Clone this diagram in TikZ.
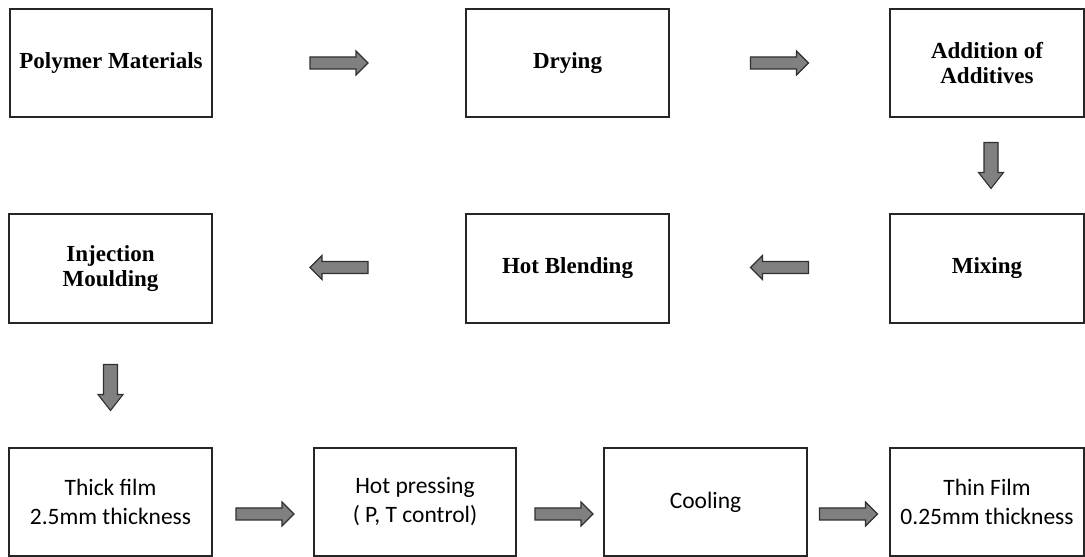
\documentclass[tikz,border=0pt]{standalone}
\usepackage{fontspec}
\setmainfont{Liberation Serif}
\newfontfamily\bodyfont{Carlito}
\usetikzlibrary{calc}

\definecolor{boxline}{HTML}{262626}
\definecolor{arrowfill}{HTML}{808080}
\definecolor{arrowline}{HTML}{303030}

\tikzset{
  x=1pt, y=1pt,
  stagebox/.style={draw=boxline, line width=1.4pt, fill=white, inner sep=0pt, outer sep=0pt,
    align=center, text=black},
  topstage/.style={stagebox, minimum height=108pt,
    font=\fontsize{23}{25}\selectfont\bfseries},
  filmstage/.style={stagebox, minimum height=108pt,
    font=\bodyfont\fontsize{23.5}{29}\selectfont},
  arrowbody/.style={fill=arrowfill, draw=arrowline, line width=1.1pt, line join=miter},
  pics/harrow/.style={code={
    \path[arrowbody] (-29,-6) -- (17,-6) -- (17,-12) -- (29,0) -- (17,12) -- (17,6)
      -- (-29,6) -- cycle;
  }},
  pics/varrow/.style={code={
    \path[arrowbody] (-7,23) -- (7,23) -- (7,-7) -- (12.5,-7) -- (0,-23)
      -- (-12.5,-7) -- (-7,-7) -- cycle;
  }},
}

\begin{document}
\begin{tikzpicture}
\useasboundingbox (0,0) rectangle (1085,557);

% first row
\node[topstage, minimum width=202pt] (poly) at (111,494) {Polymer Materials};
\node[topstage, minimum width=203pt] (dry) at (567.5,494) {Drying};
\node[topstage, minimum width=194pt] (add) at (987,494) {Addition of\\Additives};

% second row
\node[topstage, minimum width=203pt, minimum height=109pt] (inj) at (110.5,288.5) {Injection\\Moulding};
\node[topstage, minimum width=203pt, minimum height=109pt] (blend) at (567.5,288.5) {Hot Blending};
\node[topstage, minimum width=194pt, minimum height=109pt] (mix) at (987,288.5) {Mixing};

% third row
\node[filmstage, minimum width=203pt] (thick) at (110.5,55) {Thick film\\2.5mm thickness};
\node[filmstage, minimum width=202pt] (press) at (415,55) {Hot pressing\\( P, T control)};
\node[filmstage, minimum width=203pt] (cool) at (705.5,55) {Cooling};
\node[filmstage, minimum width=194pt] (thin) at (987,55) {Thin Film\\0.25mm thickness};

% block arrows between the stages
\pic at ($(poly.east)!0.5!(dry.west)$) {harrow};
\pic at ($(dry.east)!0.5!(add.west)$) {harrow};
\pic at ($(add.south)!0.5!(mix.north)+(4,0)$) {varrow};
\pic[rotate=180] at ($(mix.west)!0.5!(blend.east)+(0,1)$) {harrow};
\pic[rotate=180] at ($(blend.west)!0.5!(inj.east)+(0,1)$) {harrow};
\pic at ($(inj.south)!0.5!(thick.north)+(0,-2)$) {varrow};
\pic at ($(thick.east)!0.5!(press.west)+(2,-12)$) {harrow};
\pic at ($(press.east)!0.5!(cool.west)+(4,-12)$) {harrow};
\pic at ($(cool.east)!0.5!(thin.west)+(0,-12)$) {harrow};
\end{tikzpicture}
\end{document}
